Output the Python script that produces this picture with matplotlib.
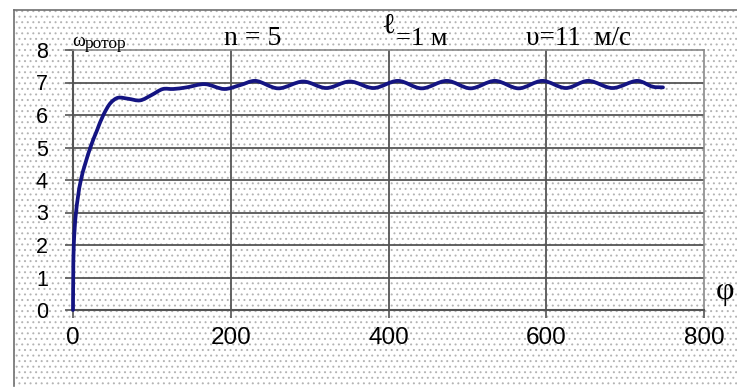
import numpy as np
import matplotlib
matplotlib.use("Agg")
import matplotlib.pyplot as plt
from matplotlib.path import Path
from matplotlib.patches import PathPatch, Rectangle
from matplotlib.lines import Line2D

# rotor angular speed vs rotation angle
phi = [0, 0.3, 1.0, 3.8, 10, 22, 30, 38.5, 48, 57, 70, 85, 100, 114, 127, 144,
       167, 192, 212, 231, 260, 292, 321, 351, 381, 412, 442, 474, 504, 535,
       565, 595, 625, 653, 684, 716, 735, 748]
omega = [0, 1.0, 2.0, 3.0, 4.0, 5.0, 5.5, 6.0, 6.38, 6.53, 6.5, 6.45, 6.62, 6.8,
         6.8, 6.85, 6.95, 6.8, 6.92, 7.05, 6.82, 7.03, 6.83, 7.03, 6.83, 7.05,
         6.82, 7.05, 6.82, 7.05, 6.82, 7.05, 6.83, 7.05, 6.83, 7.05, 6.87, 6.85]

x_ticks = [0, 200, 400, 600, 800]
y_ticks = [0, 1, 2, 3, 4, 5, 6, 7, 8]

W, H = 737, 387
fig = plt.figure(figsize=(W / 100, H / 100), dpi=100)
fig.patch.set_facecolor("white")


def fx(x):
    return x / W


def fy(y):
    return 1 - y / H


# dotted chart-area fill with its frame
plt.rcParams["hatch.linewidth"] = 0.7
bg = Rectangle((fx(14), fy(386)), fx(737) - fx(14), fy(10) - fy(386),
               transform=fig.transFigure, facecolor="white",
               edgecolor="#b4b4b4", linewidth=0, hatch="...", zorder=-5)
fig.patches.append(bg)
fig.add_artist(Line2D([fx(14), fx(14)], [fy(386), fy(10)], color="#707070",
                      lw=1.2, transform=fig.transFigure, zorder=-4))
fig.add_artist(Line2D([fx(14), fx(737)], [fy(10), fy(10)], color="#707070",
                      lw=1.2, transform=fig.transFigure, zorder=-4))

ax = fig.add_axes([fx(73), fy(310), fx(704) - fx(73), fy(50) - fy(310)])
ax.set_zorder(1)
ax.set_facecolor("none")
ax.set_xlim(0, 800)
ax.set_ylim(0, 8)
ax.set_xticks(x_ticks)
ax.set_yticks(y_ticks)
ax.set_xticklabels([str(v) for v in x_ticks], fontsize=17.5,
                   family="Liberation Sans")
ax.set_yticklabels([str(v) for v in y_ticks], fontsize=15.5,
                   family="Liberation Sans")
ax.tick_params(axis="both", direction="out", length=6, width=1.2,
               color="#555555")
ax.tick_params(axis="y", pad=12)
ax.tick_params(axis="x", pad=6)

for v in y_ticks[1:-1]:
    ax.axhline(v, color="#555555", lw=1.3, zorder=1)
for v in x_ticks[1:-1]:
    ax.axvline(v, color="#555555", lw=1.3, zorder=1)

ax.spines["left"].set_color("#555555")
ax.spines["bottom"].set_color("#555555")
ax.spines["left"].set_linewidth(1.5)
ax.spines["bottom"].set_linewidth(1.5)
ax.spines["top"].set_color("#8a8a8a")
ax.spines["right"].set_color("#8a8a8a")
ax.spines["top"].set_linewidth(1.2)
ax.spines["right"].set_linewidth(1.2)


def smooth_path(xs, ys, sx=0.79, sy=32.4, alpha=0.5):
    """Centripetal Catmull-Rom curve through the points as cubic Beziers."""
    P = np.column_stack([xs, ys]).astype(float)
    S = np.array([sx, sy])
    first = 2 * P[0] - P[1]
    last = 2 * P[-1] - P[-2]
    Q = np.vstack([first, P, last])
    verts = [tuple(P[0])]
    codes = [Path.MOVETO]
    for i in range(1, len(Q) - 2):
        p0, p1, p2, p3 = Q[i - 1], Q[i], Q[i + 1], Q[i + 2]
        d1 = np.linalg.norm((p1 - p0) * S) ** alpha
        d2 = np.linalg.norm((p2 - p1) * S) ** alpha
        d3 = np.linalg.norm((p3 - p2) * S) ** alpha
        b1 = (d1 ** 2 * p2 - d2 ** 2 * p0 + (2 * d1 ** 2 + 3 * d1 * d2 + d2 ** 2) * p1) / (3 * d1 * (d1 + d2))
        b2 = (d3 ** 2 * p1 - d2 ** 2 * p3 + (2 * d3 ** 2 + 3 * d3 * d2 + d2 ** 2) * p2) / (3 * d3 * (d3 + d2))
        verts += [tuple(b1), tuple(b2), tuple(p2)]
        codes += [Path.CURVE4] * 3
    return Path(verts, codes)


curve = PathPatch(smooth_path(phi, omega), facecolor="none",
                  edgecolor="#141482", lw=2.7, capstyle="round",
                  joinstyle="round", zorder=3, clip_on=False)
ax.add_patch(curve)

serif = ["Liberation Serif", "DejaVu Serif"]
fig.text(fx(72), fy(46), "ω", fontsize=14, family=serif, va="baseline")
fig.text(fx(85), fy(48), "ротор", fontsize=12.5, family=serif, va="baseline")
fig.text(fx(224), fy(45), "n = 5", fontsize=20, family=serif, va="baseline")
fig.text(fx(381), fy(33), "ℓ", fontsize=21, family=serif, va="baseline")
fig.text(fx(396), fy(45), "=1 м", fontsize=19, family=serif, va="baseline")
fig.text(fx(526), fy(45), "υ=11  м/с", fontsize=19.5, family=serif,
         va="baseline")
fig.text(fx(716), fy(299), "φ", fontsize=23, family=serif, va="baseline")

fig.savefig("out.png", dpi=100)
